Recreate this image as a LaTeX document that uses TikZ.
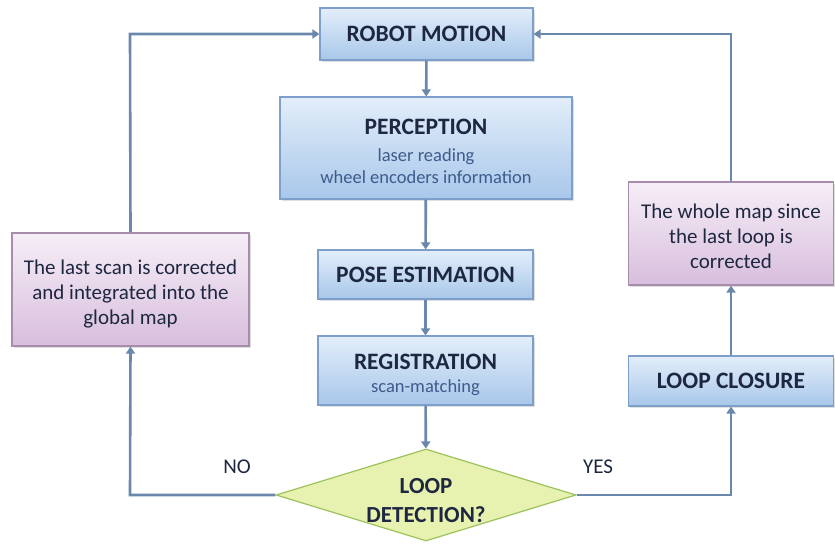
\documentclass[tikz,border=0pt]{standalone}
\usepackage{fontspec}
\setmainfont{Carlito}
\usetikzlibrary{shapes.geometric,arrows.meta,shadows}
\definecolor{lineC}{HTML}{6A88AB}
\definecolor{blueTop}{HTML}{E3EEFA}
\definecolor{blueBot}{HTML}{A8C7EA}
\definecolor{blueBd}{HTML}{7E9FC9}
\definecolor{purTop}{HTML}{F6EEF7}
\definecolor{purBot}{HTML}{D8BEDD}
\definecolor{purBd}{HTML}{A88CAC}
\definecolor{grnFill}{HTML}{E8F2B0}
\definecolor{grnBd}{HTML}{9DC25C}
\definecolor{txtC}{HTML}{1E2740}
\definecolor{subC}{HTML}{3D5B8C}
\newcommand{\ttlfont}{\fontsize{23.5}{24}\selectfont\bfseries\color{txtC}}
\begin{document}
\begin{tikzpicture}[x=1pt,y=-1pt,
  bluebox/.style={draw=blueBd,line width=1.2pt,top color=blueTop,bottom color=blueBot,
    rectangle,align=center,inner sep=0pt,text=txtC,
    drop shadow={opacity=0.25,shadow xshift=1.5pt,shadow yshift=-1.5pt}},
  subbox/.style={bluebox,text=subC,font=\fontsize{18.5}{22}\selectfont},
  purbox/.style={draw=purBd,line width=1.2pt,top color=purTop,bottom color=purBot,
    rectangle,align=center,inner sep=0pt,text=txtC,font=\fontsize{21}{25}\selectfont,
    drop shadow={opacity=0.25,shadow xshift=1.5pt,shadow yshift=-1.5pt}},
  ttl/.style={font=\fontsize{23.5}{28}\selectfont\bfseries},
  conn/.style={draw=lineC,line width=2.6pt,-{Triangle[width=9pt,length=7pt]}},
  lbl/.style={font=\fontsize{21}{24}\selectfont,text=txtC}
]
\useasboundingbox[fill=white] (0,0) rectangle (835,549);

\node[bluebox,ttl,minimum width=213pt,minimum height=52pt] (rm) at (426.5,34) {ROBOT MOTION};
\node[subbox,minimum width=292pt,minimum height=102pt] (per) at (426,148)
  {\mbox{}\\[1pt]
   {\ttlfont PERCEPTION}\\[5pt]
   laser reading\\
   wheel encoders information};
\node[bluebox,ttl,minimum width=215pt,minimum height=49pt] (pose) at (425.5,274.5) {POSE ESTIMATION};
\node[subbox,minimum width=215pt,minimum height=69pt] (reg) at (425.5,370.5)
  {\mbox{}\\[3pt]
   {\ttlfont REGISTRATION}\\[1pt]
   scan-matching};
\node[diamond,draw=grnBd,line width=1.2pt,fill=grnFill,inner sep=0pt,
  minimum width=300pt,minimum height=92pt,aspect=3.26] (ld) at (426,495) {};
\node[align=center,text=txtC,font=\fontsize{23}{29}\selectfont\bfseries] (ldt) at (426,500.5) {LOOP\\DETECTION?};

\node[purbox,minimum width=237pt,minimum height=113pt] (left) at (130.5,289.5)
  {\mbox{}\\[-2pt]The last scan is corrected\\and integrated into the\\global map};
\node[purbox,minimum width=205pt,minimum height=103pt] (rpur) at (731,233.5)
  {\mbox{}\\[-4pt]The whole map since\\the last loop is\\corrected};
\node[bluebox,ttl,minimum width=205pt,minimum height=50pt] (lc) at (731,381) {LOOP CLOSURE};

\node[lbl] (no) at (237,467) {NO};
\node[lbl] (yes) at (598,467) {YES};

\coordinate (c1) at (130,495);
\coordinate (c2) at (130,34);
\coordinate (c3) at (731,495);
\coordinate (c4) at (731,34);

\draw[conn] (rm) -- (per);
\draw[conn] (per) -- (pose);
\draw[conn] (pose) -- (reg);
\draw[conn] (reg) -- (ld);
\draw[conn] (ld.west) -- (c1) -- (left.south);
\draw[conn] (left.north) -- (c2) -- (rm.west);
\draw[conn] (ld.east) -- (c3) -- (lc.south);
\draw[conn] (lc.north) -- (rpur.south);
\draw[conn] (rpur.north) -- (c4) -- (rm.east);
\end{tikzpicture}
\end{document}
